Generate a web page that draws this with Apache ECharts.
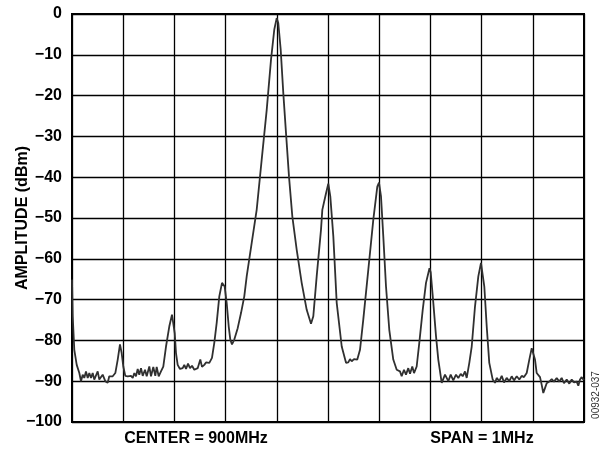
<!DOCTYPE html>
<html>
<head>
<meta charset="utf-8">
<script src="https://cdn.jsdelivr.net/npm/echarts@6/dist/echarts.min.js"></script>
<style>
html,body{margin:0;padding:0;background:#fff;}
#chart{width:612px;height:451px;}
</style>
</head>
<body>
<div id="chart"></div>
<script>
// Frequency offset from 900 MHz (kHz) and measured amplitude (dBm)
const freqKHz = [
-500,-498.6,-495.5,-490.8,-485.7,-482.4,-479.1,-476,-472.7,-469.3,-466.2,-462.9,-459.6,-456.5,-449.8,-446.7,-440.1,-435,-430.3,-427.2,
-420.5,-415.4,-410.7,-406.3,-403,-399.8,-395.9,-391.2,-384.8,-381.4,-378.3,-375,-371.7,-368.6,-365.2,-361.9,-357.4,-354.1,-349,-345.7,
-341.2,-337.3,-334.6,-330.7,-326.2,-321.7,-316.4,-310,-304.7,-302.1,-299.4,-296.9,-293.6,-289.1,-283.8,-280.7,-277.3,-273.4,-269.5,-265.6,
-261.1,-254.5,-249.4,-246.1,-241.6,-238.3,-231.8,-226.6,-222.1,-217.4,-212.3,-207,-204.5,-201.8,-197.9,-193.9,-190.8,-187.5,-183,-176.4,
-169.9,-163.5,-158.8,-149,-139.3,-129.5,-119.7,-111.3,-104.9,-100.2,-97.1,-92.4,-87.3,-82,-76.2,-69.7,-61.1,-51.4,-41.6,-33.2,
-28.7,-22.1,-13.7,-11.1,-4.5,0.6,4.5,10.4,17,26.8,35.2,39.6,43,46.3,50.8,57.2,62.5,68.9,78.7,88.5,
96.3,99.6,103.5,108,113.3,119.7,127.5,134.2,140.6,143.9,148.4,152.3,156.8,160.2,164.6,168,173.2,178.3,185,191.4,
198.2,200.6,205.7,211,215.4,222.1,228.5,235,239.6,244.7,250,254.5,259.2,263.1,267.6,270.9,276,280.7,287.1,293.6,
298.8,302.1,305.3,310,315,321.7,326.2,329.5,334.6,339.3,343.8,349,354.1,358.8,363.3,368.6,373.6,378.3,382.8,388.1,
393.2,397.9,401,404.3,407.6,414.1,417.4,420.5,423.8,427.1,432.2,436.9,441.4,446.7,451.8,456.4,460.9,466.2,471.3,476,
480.5,485.7,488.9,492.2,495.5,498.6,500
];
const amplDBm = [
-65.1,-74.1,-82.3,-86,-88,-90,-88.4,-89.2,-87.6,-89.2,-88,-89.2,-88,-89.6,-87.6,-89.6,-88.4,-90,-90.4,-88.8,
-88.8,-88,-84.7,-81,-83.1,-86.4,-88.7,-88.8,-88.7,-89.2,-88,-88.8,-87,-88.4,-86.8,-88.7,-87.2,-88.8,-86.4,-88.8,
-86.5,-88.7,-86.5,-88.8,-87.6,-86.4,-81.5,-76.6,-73.7,-74.1,-78.2,-83.1,-86,-87,-86.8,-86,-87,-85.7,-86.8,-86.2,
-87.2,-86.8,-84.7,-86.5,-86,-85.4,-85.5,-84.3,-80.6,-75.7,-69.2,-65.9,-65.8,-66.8,-70.8,-76.6,-79.8,-81,-79.8,-77,
-73.3,-69.2,-64.3,-56.1,-48,-35.7,-23.5,-11.2,-3.8,-1.0,-2.2,-8.7,-19.4,-29.2,-39.8,-49.6,-57.8,-65.9,-72.5,-75.9,
-74.1,-64.3,-52.9,-48,-44.3,-41.6,-44.7,-54.5,-70.8,-81.5,-85.5,-85.4,-84.6,-85.1,-84.6,-84.7,-82.3,-74.9,-62.7,-50.4,
-42.3,-41.3,-44.7,-54.5,-66.8,-77.4,-84.7,-87.2,-87.6,-88.8,-87.2,-88.4,-86.8,-88.2,-86.4,-88,-86.4,-80.6,-72.5,-65.9,
-62.3,-63.3,-70.8,-79,-84.7,-90.4,-88.4,-90,-88.4,-89.8,-88.4,-89.2,-88.2,-88.8,-87.6,-89.2,-85.5,-81.5,-71.7,-64.3,
-61,-61.4,-66.8,-76.6,-85.5,-89.6,-90.4,-89.2,-90,-88.7,-90.3,-89.2,-90,-88.8,-89.8,-88.8,-89.6,-88.7,-89,-88,
-84.7,-81.9,-81.5,-84.7,-88,-89,-90.9,-92.9,-91.7,-90.5,-90.1,-89.5,-90.1,-89.2,-90.1,-89.2,-90.5,-89.6,-90.6,-89.6,
-90.3,-90.1,-91.1,-89.6,-89,-89.6,-89.4
];
const yTicks = [0,-10,-20,-30,-40,-50,-60,-70,-80,-90,-100];
const xLabelLeft = 'CENTER = 900MHz';
const xLabelRight = 'SPAN = 1MHz';
const yTitle = 'AMPLITUDE (dBm)';
const figId = '00932-037';

const FONT = 'Arial, "Liberation Sans", Helvetica, sans-serif';
const trace = freqKHz.map((f, i) => [f, amplDBm[i]]);

const chart = echarts.init(document.getElementById('chart'), null, {renderer: 'canvas'});
chart.setOption({
  animation: false,
  backgroundColor: '#fff',
  grid: {left: 72, right: 28, top: 14, bottom: 29, show: true, borderColor: '#000', borderWidth: 2,
         backgroundColor: 'transparent', containLabel: false, outerBoundsMode: 'none'},
  xAxis: {
    type: 'value', min: -500, max: 500, interval: 100,
    axisLine: {show: false}, axisTick: {show: false}, axisLabel: {show: false},
    splitLine: {show: true, lineStyle: {color: '#000', width: 1.3}}
  },
  yAxis: {
    type: 'value', min: -100, max: 0, interval: 10,
    name: yTitle, nameLocation: 'middle', nameGap: 41, nameRotate: 90, nameMoveOverlap: false,
    nameTextStyle: {fontFamily: FONT, fontWeight: 'bold', fontSize: 16, color: '#000'},
    axisLine: {show: false}, axisTick: {show: false},
    axisLabel: {
      margin: 10, fontFamily: FONT, fontWeight: 'bold', fontSize: 16, color: '#000',
      formatter: v => (yTicks.indexOf(v) >= 0 ? (v < 0 ? '\u2212' + Math.abs(v) : String(v)) : '')
    },
    splitLine: {show: true, lineStyle: {color: '#000', width: 1.3}}
  },
  series: [{
    type: 'line', data: trace, showSymbol: false, smooth: false,
    lineStyle: {color: '#303030', width: 1.8}
  }],
  graphic: [
    {type: 'text', x: 196, y: 439, style: {text: xLabelLeft, font: 'bold 16px ' + FONT, fill: '#000', textAlign: 'center', textVerticalAlign: 'middle'}},
    {type: 'text', x: 482, y: 439, style: {text: xLabelRight, font: 'bold 16px ' + FONT, fill: '#000', textAlign: 'center', textVerticalAlign: 'middle'}},
    {type: 'text', x: 596, y: 395, rotation: Math.PI / 2, style: {text: figId, font: '10px ' + FONT, fill: '#333', textAlign: 'center', textVerticalAlign: 'middle'}}
  ]
});
</script>
</body>
</html>
